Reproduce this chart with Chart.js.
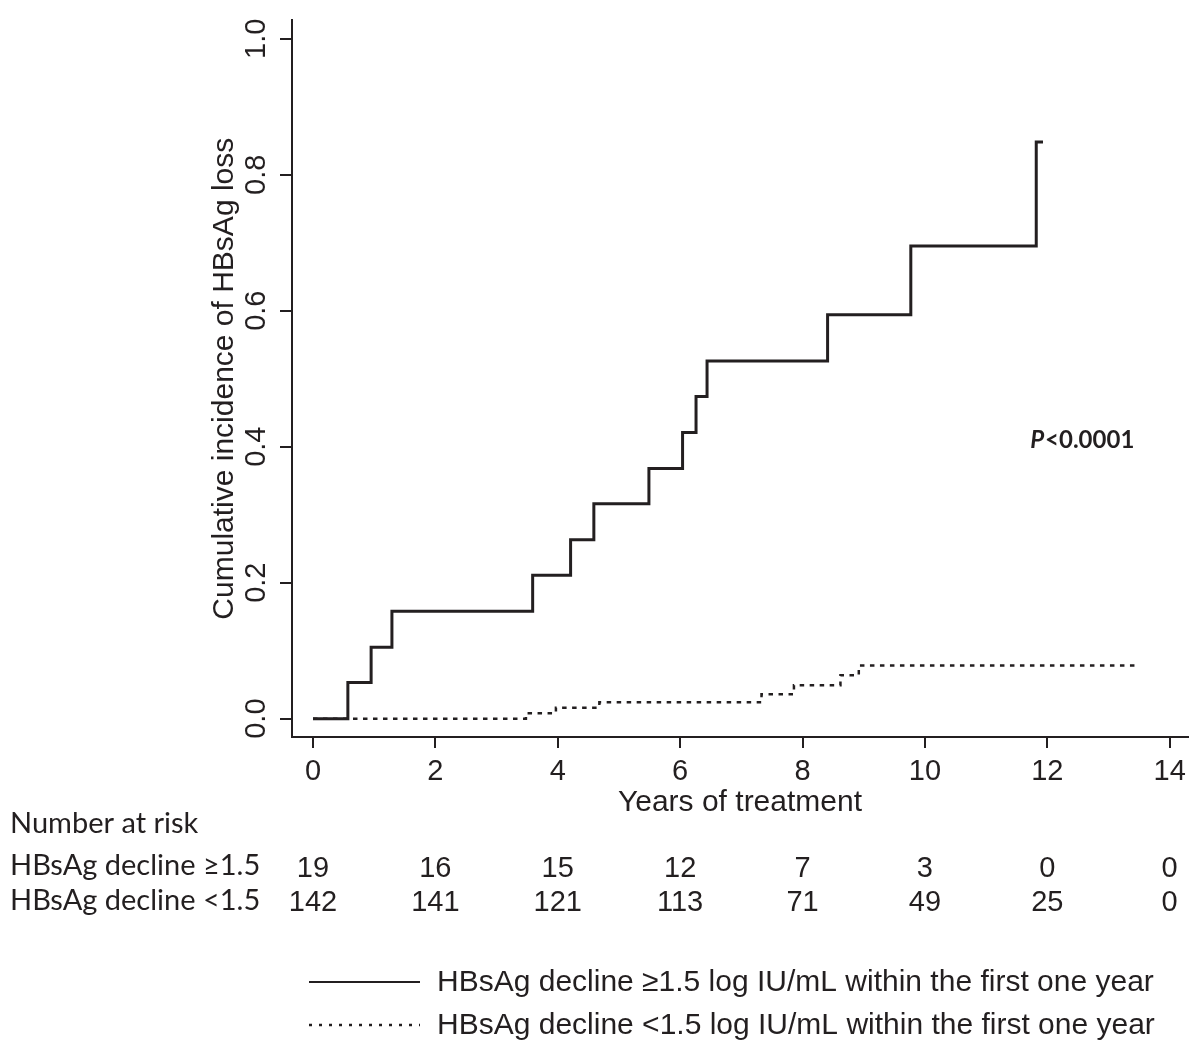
<!DOCTYPE html>
<html>
<head>
<meta charset="utf-8">
<script src="https://cdn.jsdelivr.net/npm/chart.js@4.4.1/dist/chart.umd.min.js"></script>
<style>
  html, body { margin: 0; padding: 0; background: #fff; }
  #wrap { position: relative; width: 1193px; height: 1041px; }
</style>
</head>
<body>
<div id="wrap"><canvas id="kmChart"></canvas></div>
<script>
// cumulative incidence steps (time of step, value after step)
const highTimes  = [0, 0.57, 0.95, 1.29, 3.59, 4.21, 4.59, 5.49, 6.04, 6.26, 6.44, 8.41, 9.77, 11.82, 11.93];
const highValues = [0, 0.053, 0.105, 0.158, 0.211, 0.263, 0.316, 0.368, 0.421, 0.474, 0.526, 0.594, 0.695, 0.848, 0.848];
const lowTimes   = [0, 3.48, 3.97, 4.68, 7.33, 7.86, 8.62, 8.92, 13.5];
const lowValues  = [0, 0.008, 0.016, 0.024, 0.036, 0.049, 0.064, 0.078, 0.078];

const xTicks = [0, 2, 4, 6, 8, 10, 12, 14];
const yTicks = [0, 0.2, 0.4, 0.6, 0.8, 1.0];

// number at risk under each x tick
const riskHigh = [19, 16, 15, 12, 7, 3, 0, 0];
const riskLow  = [142, 141, 121, 113, 71, 49, 25, 0];
const riskLabels = ['HBsAg decline \u22651.5', 'HBsAg decline <1.5'];
const seriesNames = [
  'HBsAg decline \u22651.5 log IU/mL within the first one year',
  'HBsAg decline <1.5 log IU/mL within the first one year'
];

const ink = '#231f20';
const arial = '"Liberation Sans", Arial, sans-serif';
const calibri = 'Lato, "Noto Sans", sans-serif';

// extra text: p value, risk table, legend
const annot = {
  id: 'annot',
  afterDraw(c) {
    const ctx = c.ctx, xs = c.scales.x, ys = c.scales.y;
    ctx.save();
    ctx.fillStyle = ink;
    ctx.strokeStyle = ink;
    ctx.textBaseline = 'middle';

    // P value
    let px = xs.getPixelForValue(11.72), py = ys.getPixelForValue(0.41);
    ctx.textAlign = 'left';
    ctx.font = 'italic bold 24px ' + calibri;
    ctx.fillText('P', px, py);
    px += ctx.measureText('P').width + 1;
    ctx.font = 'bold 24px ' + calibri;
    ctx.fillText('<0.0001', px, py);

    // number at risk
    ctx.font = '29px ' + calibri;
    ctx.fillText('Number at risk', 10, 824);
    ctx.fillText(riskLabels[0], 10, 866);
    ctx.fillText(riskLabels[1], 10, 901);
    ctx.font = '29px ' + arial;
    ctx.textAlign = 'center';
    xTicks.forEach((t, i) => {
      const x = xs.getPixelForValue(t);
      ctx.fillText(String(riskHigh[i]), x, 869);
      ctx.fillText(String(riskLow[i]), x, 903);
    });

    // legend
    ctx.textAlign = 'left';
    ctx.font = '30px ' + arial;
    const rows = [{ y: 982, dash: [], w: 2 }, { y: 1025, dash: [3, 7], w: 2.5 }];
    rows.forEach((r, i) => {
      ctx.beginPath();
      ctx.setLineDash(r.dash);
      ctx.lineWidth = r.w;
      ctx.moveTo(309, r.y);
      ctx.lineTo(420, r.y);
      ctx.stroke();
      ctx.fillText(seriesNames[i], 437, r.y + 1);
    });
    ctx.restore();
  }
};

new Chart(document.getElementById('kmChart'), {
  type: 'line',
  data: {
    datasets: [{
      label: seriesNames[0],
      data: highTimes.map((t, i) => ({ x: t, y: highValues[i] })),
      stepped: true,
      borderColor: ink,
      borderWidth: 3,
      pointRadius: 0,
      fill: false
    }, {
      label: seriesNames[1],
      data: lowTimes.map((t, i) => ({ x: t, y: lowValues[i] })),
      stepped: true,
      borderColor: ink,
      borderWidth: 2.5,
      borderDash: [4.5, 5.5],
      pointRadius: 0,
      fill: false
    }]
  },
  options: {
    responsive: true,
    maintainAspectRatio: false,
    animation: false,
    layout: { padding: { left: 0, top: 15, right: 5, bottom: 0 } },
    plugins: { legend: { display: false }, tooltip: { enabled: false } },
    scales: {
      x: {
        type: 'linear',
        min: -0.343,
        max: 14.3,
        afterBuildTicks: s => { s.ticks = xTicks.map(v => ({ value: v })); },
        afterFit: s => { s.height = 304; },
        grid: { drawOnChartArea: false, drawTicks: true, tickLength: 11, color: ink, lineWidth: 2 },
        border: { color: ink, width: 2 },
        ticks: { color: ink, font: { family: arial, size: 29 }, padding: 7, maxRotation: 0 },
        title: {
          display: true, text: 'Years of treatment', color: ink,
          font: { family: arial, size: 30 }, padding: { top: 0, bottom: 220 }
        }
      },
      y: {
        min: -0.027,
        max: 1.027,
        afterBuildTicks: s => { s.ticks = yTicks.map(v => ({ value: v })); },
        afterFit: s => { s.width = 292; },
        grid: { drawOnChartArea: false, drawTicks: true, tickLength: 12, color: ink, lineWidth: 2 },
        border: { color: ink, width: 2 },
        ticks: {
          color: ink, font: { family: arial, size: 29 }, padding: 3,
          minRotation: 90, maxRotation: 90, crossAlign: 'center',
          callback: v => v.toFixed(1)
        },
        title: {
          display: true, text: 'Cumulative incidence of HBsAg loss', color: ink,
          font: { family: arial, size: 30 }, padding: { top: 207, bottom: 0 }
        }
      }
    }
  },
  plugins: [annot]
});
</script>
</body>
</html>
